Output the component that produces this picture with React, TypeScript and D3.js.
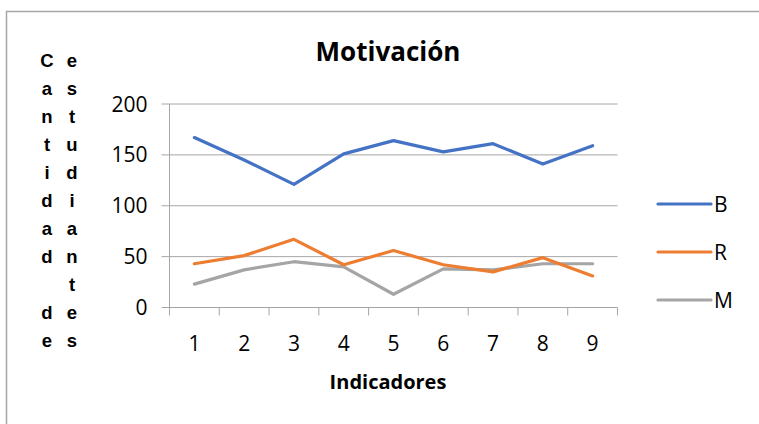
import { useEffect, useRef } from 'react';
import * as d3 from 'd3';

const categories = ['1', '2', '3', '4', '5', '6', '7', '8', '9'];
const seriesB = [167, 145, 121, 151, 164, 153, 161, 141, 159];
const seriesR = [43, 51, 67, 42, 56, 42, 35, 49, 31];
const seriesM = [23, 37, 45, 40, 13, 38, 37, 43, 43];
const yTicks = [0, 50, 100, 150, 200];
const seriesNames = ['B', 'R', 'M'];
const seriesColors = ['#4472C4', '#ED7D31', '#A5A5A5'];
const yTitleLeft = 'Cantidad de';
const yTitleRight = 'estudiantes';

const W = 759;
const H = 424;

export default function App() {
  const svgRef = useRef<SVGSVGElement>(null);

  useEffect(() => {
    if (!svgRef.current) return;
    const svg = d3.select(svgRef.current);
    svg.selectAll('*').remove();

    const left = 169.5;
    const right = 617.5;
    const top = 104;
    const bottom = 307.5;
    const font = '"Open Sans", Lato, sans-serif';

    // outer chart border (cropped)
    svg.append('path')
      .attr('d', `M6.5,${H} V11.5 H${W}`)
      .attr('fill', 'none')
      .attr('stroke', '#a6a6a6')
      .attr('stroke-width', 1.5);

    const x = d3.scaleBand().domain(categories).range([left, right]);
    const y = d3.scaleLinear().domain([0, 200]).range([bottom, top]);

    // gridlines
    svg.append('g')
      .selectAll('line')
      .data(yTicks)
      .join('line')
      .attr('x1', left - 8)
      .attr('x2', right)
      .attr('y1', (d) => y(d))
      .attr('y2', (d) => y(d))
      .attr('stroke', '#a6a6a6')
      .attr('stroke-width', 1);

    // y axis line
    svg.append('line')
      .attr('x1', left).attr('x2', left)
      .attr('y1', top).attr('y2', bottom)
      .attr('stroke', '#a6a6a6');

    // x axis ticks
    const xTickPos = categories.map((c) => x(c) as number).concat([right]);
    svg.append('g')
      .selectAll('line')
      .data(xTickPos)
      .join('line')
      .attr('x1', (d) => d)
      .attr('x2', (d) => d)
      .attr('y1', bottom)
      .attr('y2', bottom + 8)
      .attr('stroke', '#a6a6a6');

    // y tick labels
    svg.append('g')
      .selectAll('text')
      .data(yTicks)
      .join('text')
      .attr('x', left - 22)
      .attr('y', (d) => y(d))
      .attr('dy', '0.36em')
      .attr('text-anchor', 'end')
      .attr('font-family', font)
      .attr('font-size', 21)
      .attr('fill', '#000')
      .text((d) => d);

    // x tick labels
    svg.append('g')
      .selectAll('text')
      .data(categories)
      .join('text')
      .attr('x', (d) => (x(d) as number) + x.bandwidth() / 2)
      .attr('y', 351)
      .attr('text-anchor', 'middle')
      .attr('font-family', font)
      .attr('font-size', 21)
      .attr('fill', '#000')
      .text((d) => d);

    // lines
    const allSeries = [seriesB, seriesR, seriesM];
    const line = d3.line<number>()
      .x((_, i) => (x(categories[i]) as number) + x.bandwidth() / 2)
      .y((d) => y(d));

    allSeries.slice().reverse().forEach((s, ri) => {
      const i = allSeries.length - 1 - ri;
      svg.append('path')
        .datum(s)
        .attr('d', line)
        .attr('fill', 'none')
        .attr('stroke', seriesColors[i])
        .attr('stroke-width', 3.2)
        .attr('stroke-linejoin', 'round')
        .attr('stroke-linecap', 'round');
    });

    // title
    svg.append('text')
      .attr('x', 388)
      .attr('y', 61)
      .attr('text-anchor', 'middle')
      .attr('font-family', font)
      .attr('font-weight', 'bold')
      .attr('font-size', 26)
      .text('Motivación');

    // x axis title
    svg.append('text')
      .attr('x', 388)
      .attr('y', 389)
      .attr('text-anchor', 'middle')
      .attr('font-family', font)
      .attr('font-weight', 'bold')
      .attr('font-size', 20)
      .text('Indicadores');

    // y axis title: letters stacked in two columns
    const yt = svg.append('g')
      .attr('font-family', '"Liberation Sans", Arial, sans-serif')
      .attr('font-weight', 'bold')
      .attr('font-size', 18.5)
      .attr('text-anchor', 'middle');
    [yTitleLeft, yTitleRight].forEach((word, col) => {
      word.split('').forEach((ch, row) => {
        yt.append('text')
          .attr('x', col === 0 ? 47 : 72)
          .attr('y', 60 + row * 28)
          .attr('dy', '0.36em')
          .text(ch);
      });
    });

    // legend
    const lg = svg.append('g');
    seriesNames.forEach((name, i) => {
      const ly = 204 + i * 48;
      lg.append('line')
        .attr('x1', 658).attr('x2', 711)
        .attr('y1', ly).attr('y2', ly)
        .attr('stroke', seriesColors[i])
        .attr('stroke-width', 3.2)
        .attr('stroke-linecap', 'round');
      lg.append('text')
        .attr('x', 714)
        .attr('y', ly)
        .attr('dy', '0.36em')
        .attr('font-family', font)
        .attr('font-size', 21)
        .text(name);
    });
  }, []);

  return (
    <svg
      ref={svgRef}
      width={W}
      height={H}
      style={{ position: 'absolute', left: 0, top: 0, background: '#fff' }}
    />
  );
}
